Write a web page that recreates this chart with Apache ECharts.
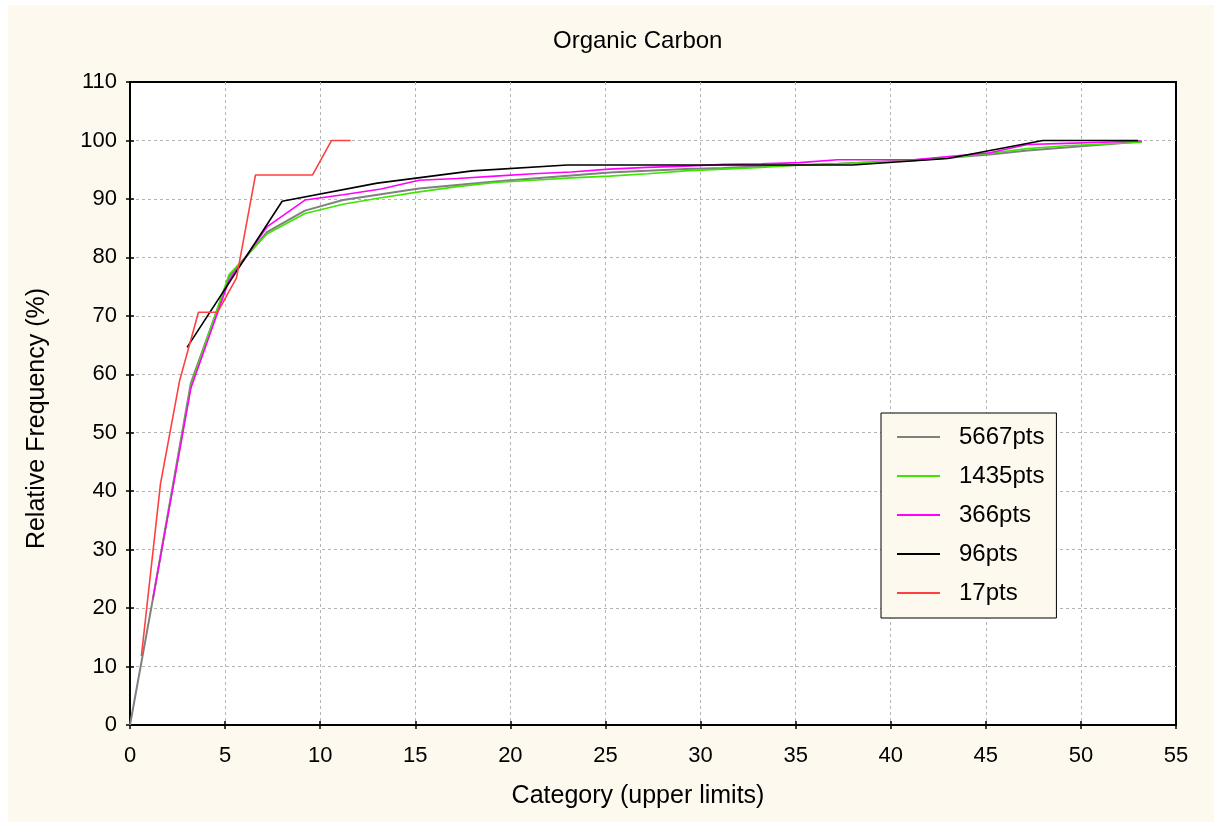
<!DOCTYPE html>
<html><head><meta charset="utf-8">
<script src="https://cdn.jsdelivr.net/npm/echarts@6/dist/echarts.min.js"></script>
<style>
html,body{margin:0;padding:0;background:#ffffff;}
#wrap{position:relative;width:1214px;height:822px;overflow:hidden;}
#cream{position:absolute;left:8px;top:5px;right:0;bottom:0;background:#FDF9EE;}
#c{position:absolute;left:0;top:0;width:1214px;height:822px;}
</style>
</head><body>
<div id="wrap"><div id="cream"></div><div id="c"></div></div>
<script>
const chartTitle = 'Organic Carbon';
const pageTitle = 'Upscaled data sets and effect on plotting cumulative histograms of Organic Carbon';
const xName = 'Category (upper limits)';
const yName = 'Relative Frequency (%)';
const seriesNames = ['5667pts','1435pts','366pts','96pts','17pts'];

const grayX = [0,1.2,3.2,5.2,7.2,9.2,11.2,13.2,15.2,17.2,19.2,21.2,23.2,25.2,27.2,29.2,31.2,33.2,35.2,37.2,39.2,41.2,43.2,45.2,47.2,49.2,51.2,53.2];
const grayY = [0,21.5,58.5,76.6,84.3,88.0,89.8,90.8,91.8,92.4,93.0,93.5,94.0,94.5,94.8,95.1,95.3,95.6,95.8,96.0,96.3,96.6,97.1,97.6,98.3,98.8,99.3,99.8];

const fineX = [1.2,3.2,5.2,7.2,9.2,11.2,13.2,15.2,17.2,19.2,21.2,23.2,25.2,27.2,29.2,31.2,33.2,35.2,37.2,39.2,41.2,43.2,45.2,47.2,49.2,51.2,53.2];
const greenY = [21.5,58.0,77.0,84.0,87.5,89.1,90.2,91.2,92.1,92.8,93.2,93.6,93.9,94.3,94.8,95.1,95.4,95.8,96.0,96.3,96.6,97.1,97.8,98.6,99.1,99.4,99.7];
const magentaY = [21.5,57.6,76.0,85.2,89.8,90.7,91.7,93.2,93.5,93.9,94.3,94.6,95.1,95.4,95.6,95.9,96.0,96.2,96.7,96.7,96.7,97.3,97.9,99.3,99.5,99.7,99.9];

const blackX = [3,8,13,18,23,28,33,38,43,48,53];
const blackY = [64.6,89.6,92.7,94.8,95.8,95.8,95.8,95.8,96.9,100,100];

const redX = [0.6,1.6,2.6,3.6,4.6,5.6,6.6,7.6,8.6,9.6,10.6,11.6];
const redY = [11.8,41.2,58.8,70.6,70.6,76.5,94.1,94.1,94.1,94.1,100,100];

const xTicks = {min:0, max:55, interval:5};
const yTicks = {min:0, max:110, interval:10};

const colors = ['#808080','#3ce600','#ff00ff','#000000','#ff4040'];
const widths = [2,1.6,1.6,1.6,1.6];

function zip(xs, ys){ return xs.map((x,i)=>[x, ys[i]]); }
const seriesData = [zip(grayX,grayY), zip(fineX,greenY), zip(fineX,magentaY), zip(blackX,blackY), zip(redX,redY)];

const FONT = '"Liberation Sans", Arial, sans-serif';
const FS = 24;
const NFS = 25;
const TFS = 22;
const chart = echarts.init(document.getElementById('c'), null, {renderer:'canvas'});

const gridLine = {show:true, showMinLine:false, showMaxLine:false, lineStyle:{color:'#b4b4b4', type:[3,3], width:1}};
const axisL = {show:true, lineStyle:{color:'#000', width:2}};
const tick = {show:true, inside:true, length:4, lineStyle:{color:'#000', width:1.5}};

chart.setOption({
  backgroundColor:'transparent',
  animation:false,
  title:{text:chartTitle, left:548, top:24, textStyle:{fontFamily:FONT, fontSize:FS, fontWeight:'normal', color:'#000'}},
  graphic:[{type:'text', left:8, top:-21, style:{text:pageTitle, font:'bold 21px "Liberation Serif", serif', fill:'#000'}}],
  grid:{left:130, right:38, top:82, bottom:97, show:true, backgroundColor:'#ffffff', borderColor:'#000', borderWidth:2},
  legend:{
    orient:'vertical', left:881, top:413,
    data:seriesNames,
    icon:'rect', itemWidth:43, itemHeight:2, itemGap:15,
    padding:[12,12,13,16],
    backgroundColor:'#FDF9EE', borderColor:'#000', borderWidth:1,
    textStyle:{fontFamily:FONT, fontSize:FS, color:'#000', lineHeight:24, padding:[0,0,0,14]}
  },
  xAxis:[
    {type:'value', min:xTicks.min, max:xTicks.max, interval:xTicks.interval,
     name:xName, nameLocation:'middle', nameGap:59, nameTextStyle:{fontFamily:FONT, fontSize:NFS, color:'#000', padding:[0,30,0,0]},
     axisLine:axisL, axisTick:tick,
     axisLabel:{fontFamily:FONT, fontSize:TFS, color:'#000', margin:20},
     splitLine:gridLine},
    {type:'value', position:'top', min:xTicks.min, max:xTicks.max, interval:xTicks.interval,
     axisLine:axisL, axisTick:tick, axisLabel:{show:false}, splitLine:{show:false}}
  ],
  yAxis:[
    {type:'value', min:yTicks.min, max:yTicks.max, interval:yTicks.interval,
     name:yName, nameLocation:'middle', nameGap:80, nameTextStyle:{fontFamily:FONT, fontSize:NFS, color:'#000', padding:[0,30,0,0]},
     axisLine:axisL, axisTick:tick,
     axisLabel:{fontFamily:FONT, fontSize:TFS, color:'#000', margin:13},
     splitLine:gridLine},
    {type:'value', position:'right', min:yTicks.min, max:yTicks.max, interval:yTicks.interval,
     axisLine:axisL, axisTick:tick, axisLabel:{show:false}, splitLine:{show:false}}
  ],
  series: seriesNames.map((n,i)=>({
    name:n, type:'line', data:seriesData[i], xAxisIndex:0, yAxisIndex:0,
    showSymbol:false, symbol:'none', smooth:false,
    lineStyle:{color:colors[i], width:widths[i]}, itemStyle:{color:colors[i]},
    z: 2+i
  }))
});
</script>
</body></html>
